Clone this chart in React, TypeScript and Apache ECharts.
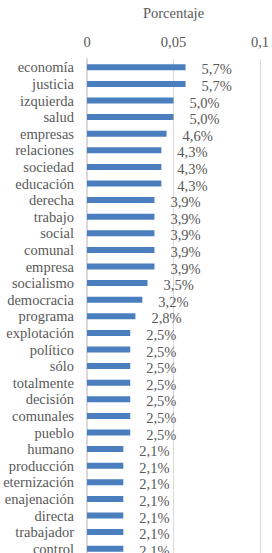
import React, { useEffect, useRef } from "react";
import * as echarts from "echarts";

const categories = [
  "economía", "justicia", "izquierda", "salud", "empresas", "relaciones",
  "sociedad", "educación", "derecha", "trabajo", "social", "comunal",
  "empresa", "socialismo", "democracia", "programa", "explotación",
  "político", "sólo", "totalmente", "decisión", "comunales", "pueblo",
  "humano", "producción", "eternización", "enajenación", "directa",
  "trabajador", "control",
];
const percentValues = [
  5.7, 5.7, 5.0, 5.0, 4.6, 4.3, 4.3, 4.3, 3.9, 3.9, 3.9, 3.9, 3.9, 3.5, 3.2,
  2.8, 2.5, 2.5, 2.5, 2.5, 2.5, 2.5, 2.5, 2.1, 2.1, 2.1, 2.1, 2.1, 2.1, 2.1,
];
const axisName = "Porcentaje";
const axisMin = 0;
const axisMax = 0.1;
const axisInterval = 0.05;

const FONT = "'Liberation Serif', 'DejaVu Serif', serif";
const TEXT = "#595959";
const FS = 14.5;

export default function App() {
  const ref = useRef<HTMLDivElement>(null);
  useEffect(() => {
    if (!ref.current) return;
    const chart = echarts.init(ref.current, null, { renderer: "svg" });
    chart.setOption({
      animation: false,
      backgroundColor: "#ffffff",
      grid: { left: 87, right: 11, top: 55, bottom: 3, containLabel: false },
      xAxis: {
        type: "value",
        position: "top",
        min: axisMin,
        max: axisMax,
        interval: axisInterval,
        name: axisName,
        nameLocation: "middle",
        nameGap: 39,
        nameTextStyle: { fontFamily: FONT, fontSize: FS, color: TEXT },
        axisLine: { show: false },
        axisTick: { show: false },
        axisLabel: {
          fontFamily: FONT,
          fontSize: FS,
          color: TEXT,
          margin: 10,
          formatter: (v: number) => String(Number(v.toFixed(4))).replace(".", ","),
        },
        splitLine: { show: true, lineStyle: { color: "#d9d9d9", width: 1 } },
      },
      yAxis: {
        type: "category",
        inverse: true,
        data: categories,
        axisLine: { show: true, lineStyle: { color: "#d9d9d9", width: 2 } },
        axisTick: { show: false },
        axisLabel: { fontFamily: FONT, fontSize: FS, color: TEXT, margin: 13, interval: 0 },
      },
      series: [
        {
          type: "bar",
          data: percentValues.map((v) => v / 100),
          barWidth: 6,
          itemStyle: { color: "#4a7ebf" },
          label: {
            show: true,
            position: "right",
            distance: 16,
            offset: [0, 2],
            fontFamily: FONT,
            fontSize: FS,
            color: TEXT,
            formatter: (p: any) => (p.value * 100).toFixed(1).replace(".", ",") + "%",
          },
        },
      ],
    });
    return () => chart.dispose();
  }, []);
  return (
    <div
      ref={ref}
      style={{ position: "fixed", left: 0, top: 0, width: 272, height: 560 }}
    />
  );
}
